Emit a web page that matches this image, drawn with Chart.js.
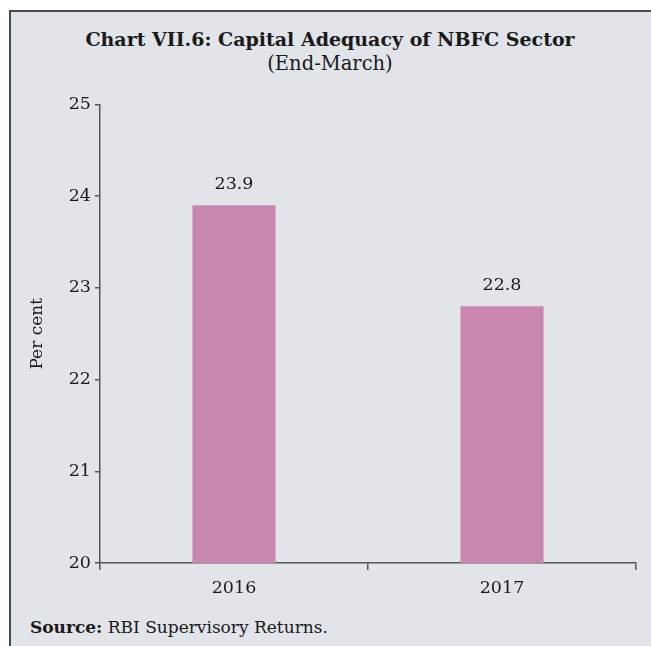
<!DOCTYPE html>
<html><head><meta charset="utf-8">
<script src="https://cdn.jsdelivr.net/npm/chart.js@4.4.1/dist/chart.umd.min.js"></script>
<style>
html,body{margin:0;padding:0;background:#fff;width:651px;height:646px;overflow:hidden;font-family:"DejaVu Serif","Liberation Serif",serif;}
#panel{position:absolute;left:9px;top:10px;width:700px;height:700px;background:#e1e4e8;border-left:2px solid #4a4a4a;border-top:2px solid #4a4a4a;}
.t{position:absolute;left:9px;width:642px;text-align:center;color:#1a1a1a;}
#title{top:28px;font-weight:bold;font-size:19px;}
#sub{top:52px;font-size:19.5px;}
#src{position:absolute;left:30px;top:617px;font-size:17px;color:#1a1a1a;}
#wrap{position:absolute;left:11px;top:90px;width:640px;height:530px;}
</style></head><body>
<div id="panel"></div>
<div class="t" id="title">Chart VII.6: Capital Adequacy of NBFC Sector</div>
<div class="t" id="sub">(End-March)</div>
<div id="src"><b>Source:</b> RBI Supervisory Returns.</div>
<div id="wrap"><canvas id="c" width="640" height="530"></canvas></div>
<script>
const categories = ["2016", "2017"];
const capitalAdequacy = [23.9, 22.8];
const yTicks = [20, 21, 22, 23, 24, 25];

const labelPlugin = {
  id: 'vals',
  afterDatasetsDraw(chart) {
    const ctx = chart.ctx;
    const meta = chart.getDatasetMeta(0);
    ctx.save();
    ctx.font = '17.5px "DejaVu Serif", serif';
    ctx.fillStyle = '#1a1a1a';
    ctx.textAlign = 'center';
    ctx.textBaseline = 'bottom';
    meta.data.forEach((bar, i) => {
      ctx.fillText(capitalAdequacy[i].toFixed(1), bar.x, bar.y - 12);
    });
    ctx.restore();
  }
};

new Chart(document.getElementById('c'), {
  type: 'bar',
  data: {
    labels: categories,
    datasets: [{
      data: capitalAdequacy,
      backgroundColor: '#c987b0',
      barPercentage: 0.62,
      categoryPercentage: 0.5
    }]
  },
  options: {
    responsive: false,
    animation: false,
    events: [],
    layout: { padding: { top: 14, right: 15, bottom: 0, left: 0 } },
    plugins: { legend: { display: false }, tooltip: { enabled: false } },
    scales: {
      x: {
        grid: { display: true, offset: true, drawOnChartArea: false, tickLength: 7, color: '#555', lineWidth: 1.5 },
        border: { display: true, color: '#555', width: 1.5 },
        ticks: { color: '#1a1a1a', font: { family: 'DejaVu Serif', size: 17.5 }, padding: 8 },
        afterFit(s) { s.height = 57; }
      },
      y: {
        min: 20, max: 25,
        afterBuildTicks(s) { s.ticks = yTicks.map(v => ({ value: v })); },
        grid: { display: true, drawOnChartArea: false, tickLength: 5, color: '#555', lineWidth: 1.5 },
        border: { display: true, color: '#555', width: 1.5 },
        ticks: { color: '#1a1a1a', font: { family: 'DejaVu Serif', size: 17.5 }, padding: 4 },
        title: { display: true, text: 'Per cent', color: '#1a1a1a', font: { family: 'DejaVu Serif', size: 17 }, padding: { top: 16, bottom: 0 } },
        afterFit(s) { s.width = 89; }
      }
    }
  },
  plugins: [labelPlugin]
});
</script>
</body></html>
